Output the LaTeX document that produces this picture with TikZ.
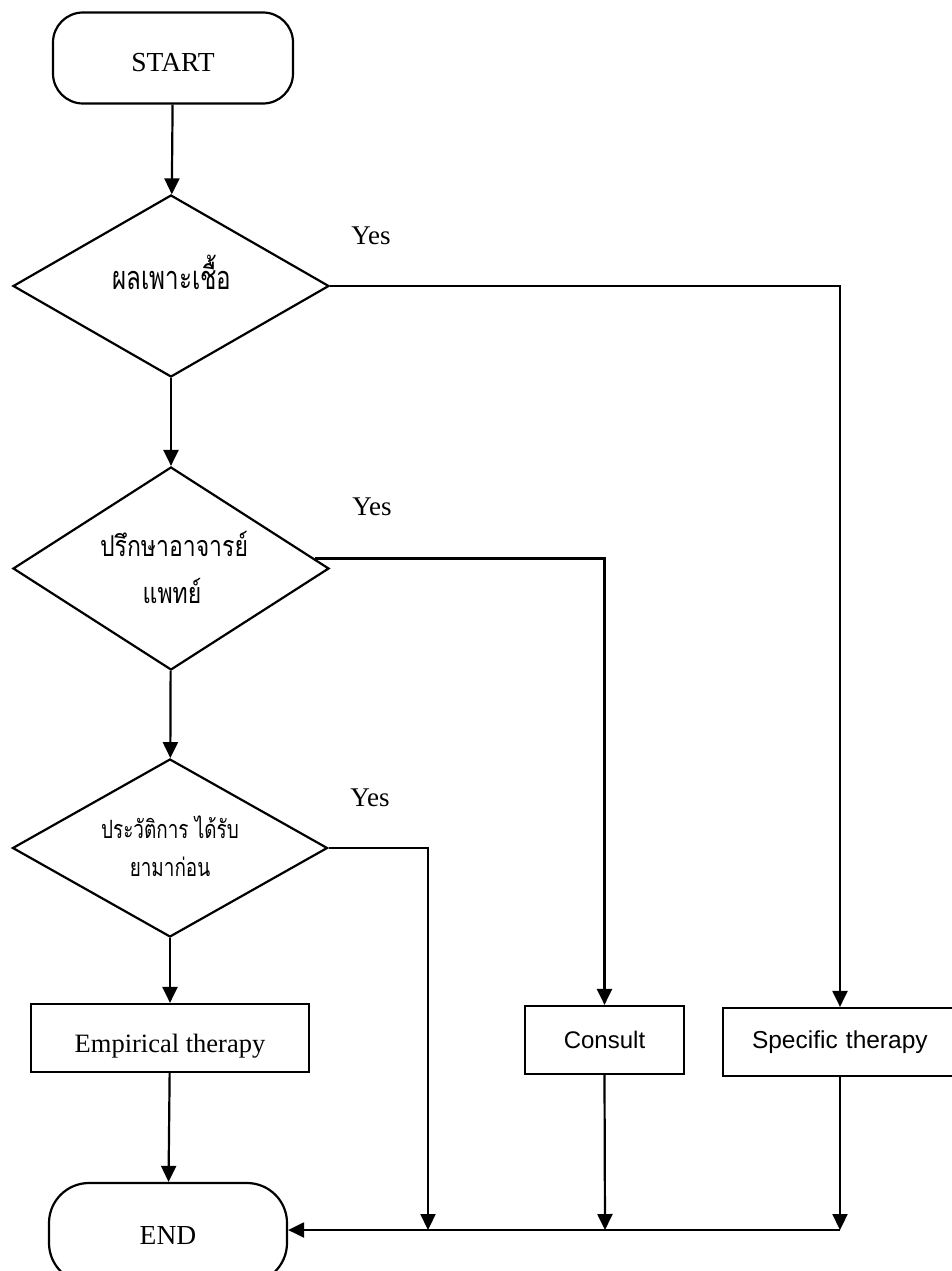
\documentclass[tikz,border=0pt]{standalone}
\usepackage{fontspec}
\usepackage{graphicx}
\setmainfont{Liberation Serif}
\newfontfamily\sansf{Liberation Sans}
\newfontfamily\thaif[Script=Thai]{Loma}
\usetikzlibrary{shapes.geometric,arrows.meta}
\begin{document}
\begin{tikzpicture}[x=1pt,y=-1pt,
  line width=2.2pt,
  term/.style={draw,rectangle,rounded corners=30pt,minimum width=240pt,minimum height=91pt,inner sep=0pt,font=\fontsize{27.5}{28}\selectfont,text height=28pt,text depth=0pt},
  decision/.style={draw,diamond,inner sep=0pt,minimum width=316pt},
  procbox/.style={draw,rectangle,inner sep=0pt,minimum height=68pt},
  lbl/.style={font=\fontsize{27}{28}\selectfont},
  arr/.style={-{Triangle[length=16pt,width=15pt]}},
  thaitxt/.style={align=center,inner sep=0pt}
]
\useasboundingbox (0,0) rectangle (951,1271);
\node[term] (start) at (173,58) {START};
\node[decision,minimum height=182pt] (d1) at (171,286) {};
\node[thaitxt] (t1) at (172,272) {\scalebox{0.93}[1.25]{\thaif\fontsize{26}{30}\selectfont ผลเพาะเชื้อ}};
\node[decision,minimum height=203pt] (d2) at (171,568.5) {};
\node[thaitxt] (t2a) at (174,544) {\scalebox{1}[1.25]{\thaif\fontsize{23}{30}\selectfont ปรึกษาอาจารย์}};
\node[thaitxt] (t2b) at (172,591) {\scalebox{1}[1.25]{\thaif\fontsize{23}{30}\selectfont แพทย์}};
\node[decision,minimum height=178pt,minimum width=315pt] (d3) at (170,848) {};
\node[thaitxt] (t3a) at (170,827) {\scalebox{0.9}[1.2]{\thaif\fontsize{21}{30}\selectfont ประวัติการ ได้รับ}};
\node[thaitxt] (t3b) at (170,867) {\scalebox{0.9}[1.2]{\thaif\fontsize{21}{30}\selectfont ยามาก่อน}};
\node[procbox,minimum width=278pt,font=\fontsize{26.5}{28}\selectfont,text height=28pt,text depth=0pt] (emp) at (170,1038) {Empirical therapy};
\node[procbox,minimum width=159pt,font=\sansf\fontsize{24}{28}\selectfont] (cons) at (604.5,1040) {Consult};
\node[procbox,minimum width=234pt,font=\sansf\fontsize{24.5}{28}\selectfont,text width=220pt,align=left] (spec) at (840,1042) {\hspace*{22pt}Specific therapy};
\node[term,rounded corners=40pt,minimum width=238pt,minimum height=100pt,text height=22pt] (end) at (168,1233) {END};
\node[lbl] (y1) at (371,236) {Yes};
\node[lbl] (y2) at (372,507) {Yes};
\node[lbl] (y3) at (370,798) {Yes};
\coordinate (j1) at (428,1230);
\coordinate (j2) at (605,1230);
\coordinate (j3) at (840,1230);
\draw[arr] (start) -- (d1);
\draw[arr] (d1) -- (d2);
\draw[arr] (d2) -- (d3);
\draw[arr] (d3) -- (emp);
\draw[arr] (emp) -- (end);
\draw[arr] (d1.east) -| (spec.north);
\draw[arr] (d2.4.6) -| (cons.north);
\draw[arr] (d3.east) -| (j1);
\draw[arr] (cons.south) -- (j2);
\draw[arr] (spec.south) -- (j3);
\draw[arr] (j3) -- (j3 -| end.east);
\end{tikzpicture}
\end{document}
